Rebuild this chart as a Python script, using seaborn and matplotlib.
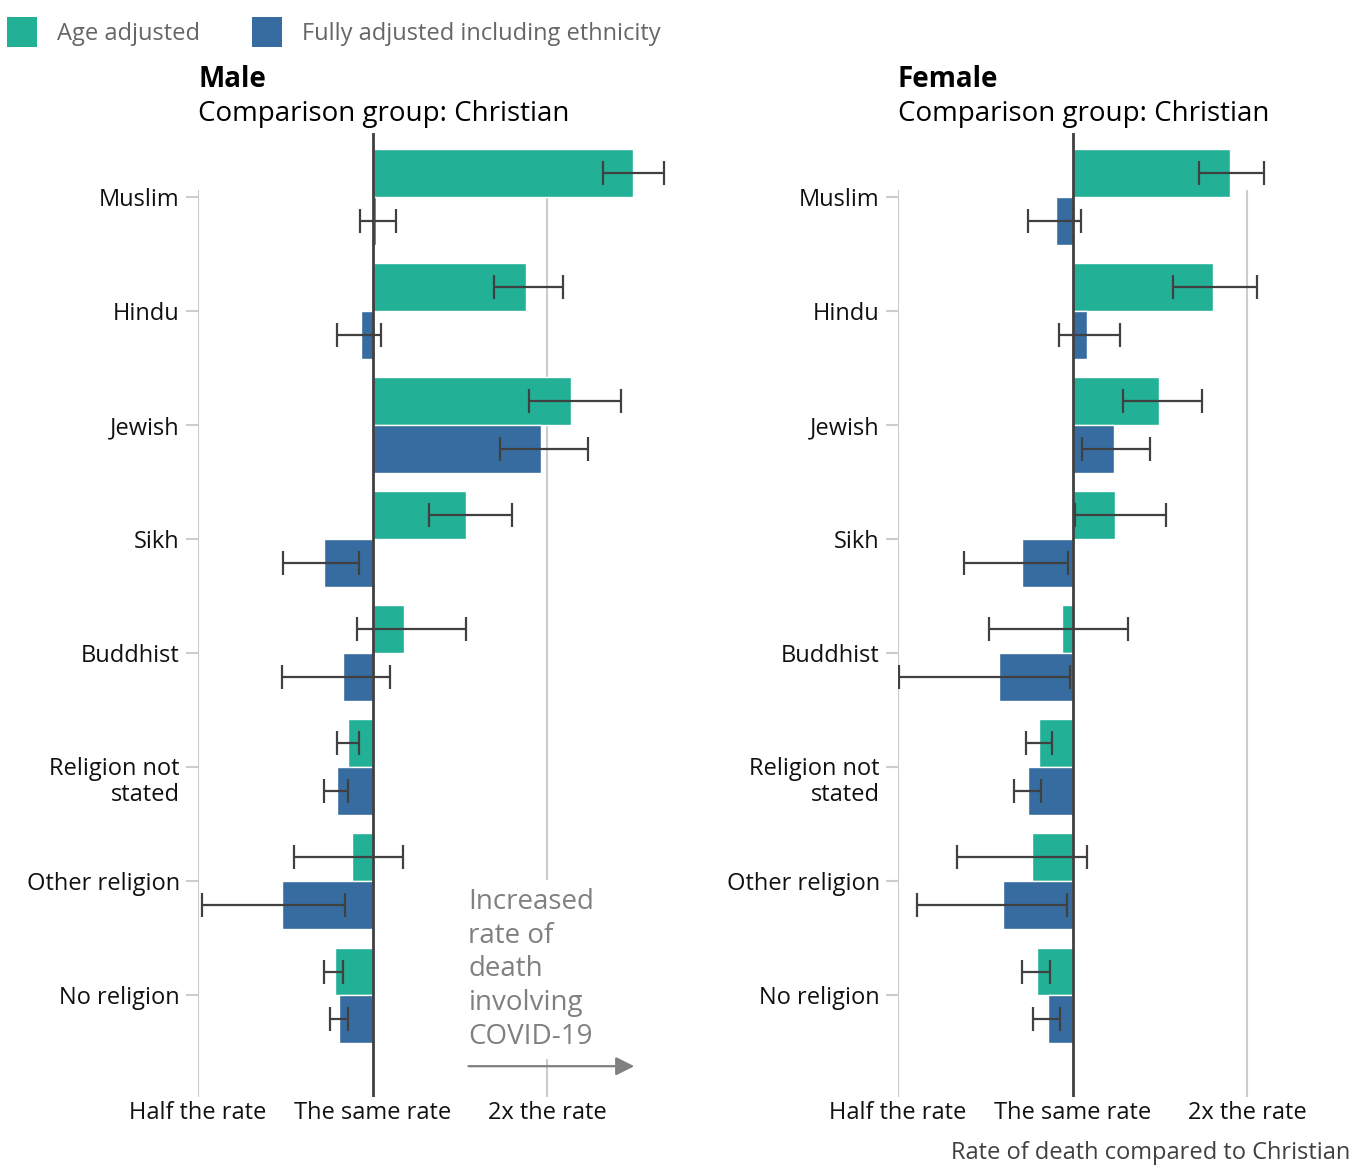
import numpy as np
import pandas as pd
import seaborn as sns
import matplotlib
matplotlib.use("Agg")
import matplotlib.pyplot as plt
from matplotlib.patches import Patch
from matplotlib.transforms import ScaledTranslation

# data (rate ratio vs Christian, with 95% CI)
religions = ["Muslim", "Hindu", "Jewish", "Sikh", "Buddhist",
             "Religion not\nstated", "Other religion", "No religion"]
measures = ["Age adjusted", "Fully adjusted including ethnicity"]

male_age = [2.81, 1.84, 2.20, 1.45, 1.135, 0.909, 0.923, 0.86]
male_age_lo = [2.50, 1.62, 1.86, 1.25, 0.942, 0.87, 0.731, 0.826]
male_age_hi = [3.18, 2.13, 2.68, 1.74, 1.447, 0.946, 1.127, 0.891]
male_full = [1.016, 0.957, 1.95, 0.826, 0.888, 0.87, 0.699, 0.877]
male_full_lo = [0.95, 0.867, 1.66, 0.702, 0.699, 0.826, 0.507, 0.846]
male_full_hi = [1.096, 1.036, 2.35, 0.946, 1.074, 0.906, 0.895, 0.909]

female_age = [1.866, 1.744, 1.41, 1.186, 0.961, 0.874, 0.85, 0.867]
female_age_lo = [1.65, 1.49, 1.22, 1.008, 0.719, 0.83, 0.631, 0.817]
female_age_hi = [2.14, 2.085, 1.67, 1.447, 1.249, 0.92, 1.061, 0.913]
female_full = [0.938, 1.061, 1.177, 0.817, 0.748, 0.839, 0.76, 0.906]
female_full_lo = [0.839, 0.946, 1.04, 0.651, 0.501, 0.794, 0.540, 0.856]
female_full_hi = [1.036, 1.21, 1.358, 0.984, 0.992, 0.884, 0.977, 0.95]

tick_rates = [0.5, 1, 2]
tick_labels = ["Half the rate", "The same rate", "2x the rate"]

green = "#22b096"
blue = "#376ca0"


def make_df(age, age_lo, age_hi, full, full_lo, full_hi):
    rows = []
    for i, r in enumerate(religions):
        rows.append([r, measures[0], age[i], age_lo[i], age_hi[i]])
        rows.append([r, measures[1], full[i], full_lo[i], full_hi[i]])
    df = pd.DataFrame(rows, columns=["religion", "measure", "rate", "lo", "hi"])
    df["log_rate"] = np.log2(df["rate"])
    return df


sns.set_style("white")
plt.rcParams["font.family"] = ["Open Sans", "DejaVu Sans"]

W, H = 1365, 1174
fig = plt.figure(figsize=(W / 100, H / 100), dpi=100)

xmin, xmax = -1, 1.68
px_per_unit = 174.5
ylim = (7.89, -0.56)


def add_panel(left_px, df, title, show_note=False, show_xlabel=False):
    right_px = left_px + (xmax - xmin) * px_per_unit
    top_px, bottom_px = 133, 1097
    ax = fig.add_axes([left_px / W, 1 - bottom_px / H,
                       (right_px - left_px) / W, (bottom_px - top_px) / H])
    sns.barplot(data=df, y="religion", x="log_rate", hue="measure",
                order=religions, hue_order=measures, palette=[green, blue],
                width=0.84, saturation=1, errorbar=None, legend=False,
                orient="h", ax=ax, zorder=2)

    # confidence intervals
    for cont, m in zip(list(ax.containers)[:2], measures):
        sub = df[df["measure"] == m].set_index("religion").loc[religions]
        ys = [p.get_y() + p.get_height() / 2 for p in cont]
        c = np.log2(sub["rate"].values)
        lo = c - np.log2(sub["lo"].values)
        hi = np.log2(sub["hi"].values) - c
        ax.errorbar(c, ys, xerr=[lo, hi], fmt="none", ecolor="#404040",
                    elinewidth=1.6, capsize=8.5, capthick=1.6, zorder=4)

    ax.vlines([np.log2(0.5), np.log2(2)], -0.06, ylim[0], color="#cccccc",
              lw=1.5, zorder=0)
    ax.axvline(0, color="#404040", lw=2, zorder=3)

    ax.set_xlim(xmin, xmax)
    ax.set_ylim(*ylim)
    ax.set_xticks(np.log2(tick_rates))
    ax.set_xticklabels(tick_labels)
    ax.set_xlabel("")
    ax.set_ylabel("")
    ax.tick_params(axis="x", length=0, pad=3, labelsize=17, labelcolor="#111111")
    ax.tick_params(axis="y", length=8.6, width=1.5, color="#cccccc", pad=4.5,
                   labelsize=17, labelcolor="#111111", left=True)
    for lbl in ax.get_yticklabels():
        if "\n" in lbl.get_text():
            lbl.set_linespacing(1.12)
            lbl.set_va("top")
            lbl.set_transform(lbl.get_transform() +
                              ScaledTranslation(0, 0.105, fig.dpi_scale_trans))
    sns.despine(ax=ax, left=True, bottom=True)

    fig.text(left_px / W, 1 - 76 / H, title, fontsize=20, fontweight="bold",
             va="center_baseline", color="black")
    fig.text(left_px / W, 1 - 111 / H, "Comparison group: Christian",
             fontsize=20, va="center_baseline", color="black")

    if show_note:
        ax.text(0.55, 7.485, "Increased\nrate of\ndeath\ninvolving\nCOVID-19",
                fontsize=20, color="#808080", ha="left", va="bottom",
                linespacing=1.27, zorder=5,
                bbox=dict(facecolor="white", edgecolor="none", pad=6))
        ax.annotate("", xy=(1.5, 7.62), xytext=(0.55, 7.62),
                    arrowprops=dict(arrowstyle="-|>", color="#808080", lw=1.6,
                                    mutation_scale=28, shrinkA=0, shrinkB=0),
                    zorder=5)
    if show_xlabel:
        fig.text(1350 / W, 1 - 1150 / H, "Rate of death compared to Christian",
                 fontsize=17, color="#404040", ha="right", va="center_baseline")
    return ax


male_df = make_df(male_age, male_age_lo, male_age_hi,
                  male_full, male_full_lo, male_full_hi)
female_df = make_df(female_age, female_age_lo, female_age_hi,
                    female_full, female_full_lo, female_full_hi)

add_panel(198, male_df, "Male", show_note=True)
add_panel(898, female_df, "Female", show_xlabel=True)

handles = [Patch(facecolor=green, edgecolor="none"), Patch(facecolor=blue, edgecolor="none")]
fig.legend(handles, measures, loc="upper left", bbox_to_anchor=(7 / W, 1 - 17 / H),
           ncol=2, frameon=False, fontsize=17, handlelength=1.27, handleheight=1.58,
           handletextpad=0.85, columnspacing=2.2, borderpad=0, borderaxespad=0,
           labelcolor="#666666")

fig.savefig("out.png", dpi=100)
